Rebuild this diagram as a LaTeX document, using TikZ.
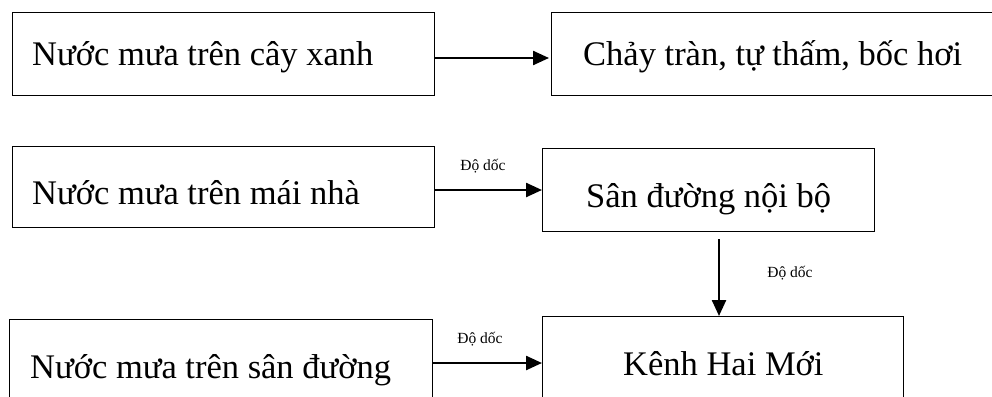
\documentclass[tikz,border=0pt]{standalone}
\usepackage{fontspec}
\setmainfont{Liberation Serif}
\usetikzlibrary{arrows.meta}
\begin{document}
\begin{tikzpicture}[x=1pt,y=-1pt,
  box/.style={draw,line width=1.1pt,rectangle,inner sep=0pt,anchor=north west},
  boxtext/.style={anchor=base west,inner sep=0pt,font=\fontsize{34.5}{40}\selectfont},
  slope/.style={inner sep=0pt,font=\fontsize{15.5}{18}\selectfont},
  flow/.style={line width=2.4pt,-{Triangle[length=16pt,width=14pt]}}]
  % page frame; the lower boxes run past its bottom edge
  \clip (0,0) rectangle (992,396);

  % boxes
  \node[box,minimum width=422pt,minimum height=83pt] (b1) at (12,12) {};
  \node[box,minimum width=450pt,minimum height=83pt] (b2) at (551,12) {};
  \node[box,minimum width=422pt,minimum height=81pt] (b3) at (12,146) {};
  \node[box,minimum width=332pt,minimum height=83pt] (b4) at (542,148) {};
  \node[box,minimum width=423pt,minimum height=100pt] (b5) at (9,319) {};
  \node[box,minimum width=361pt,minimum height=100pt] (b6) at (542,316) {};

  % box texts
  \node[boxtext] (t1) at (32,65) {Nước mưa trên cây xanh};
  \node[boxtext] (t2) at (583,65) {Chảy tràn, tự thấm, bốc hơi};
  \node[boxtext] (t3) at (32,204) {Nước mưa trên mái nhà};
  \node[boxtext] (t4) at (586,207) {Sân đường nội bộ};
  \node[boxtext] (t5) at (30,378) {Nước mưa trên sân đường};
  \node[boxtext] (t6) at (623,375) {Kênh Hai Mới};

  % connectors
  \coordinate (r1) at (0,58);
  \coordinate (r2) at (0,190);
  \coordinate (r3) at (0,363);
  \coordinate (col) at (719,0);
  \draw[flow,shorten >=2pt] (b1.east |- r1) -- (b2.west |- r1);
  \draw[flow] (b3.east |- r2) -- (b4.west |- r2);
  \draw[flow] ([yshift=-7pt]b4.south -| col) -- (b6.north -| col);
  \draw[flow] (b5.east |- r3) -- (b6.west |- r3);

  % connector labels
  \node[slope] (l1) at (483,166) {Độ dốc};
  \node[slope] (l2) at (790,273) {Độ dốc};
  \node[slope] (l3) at (480,339) {Độ dốc};
\end{tikzpicture}
\end{document}
